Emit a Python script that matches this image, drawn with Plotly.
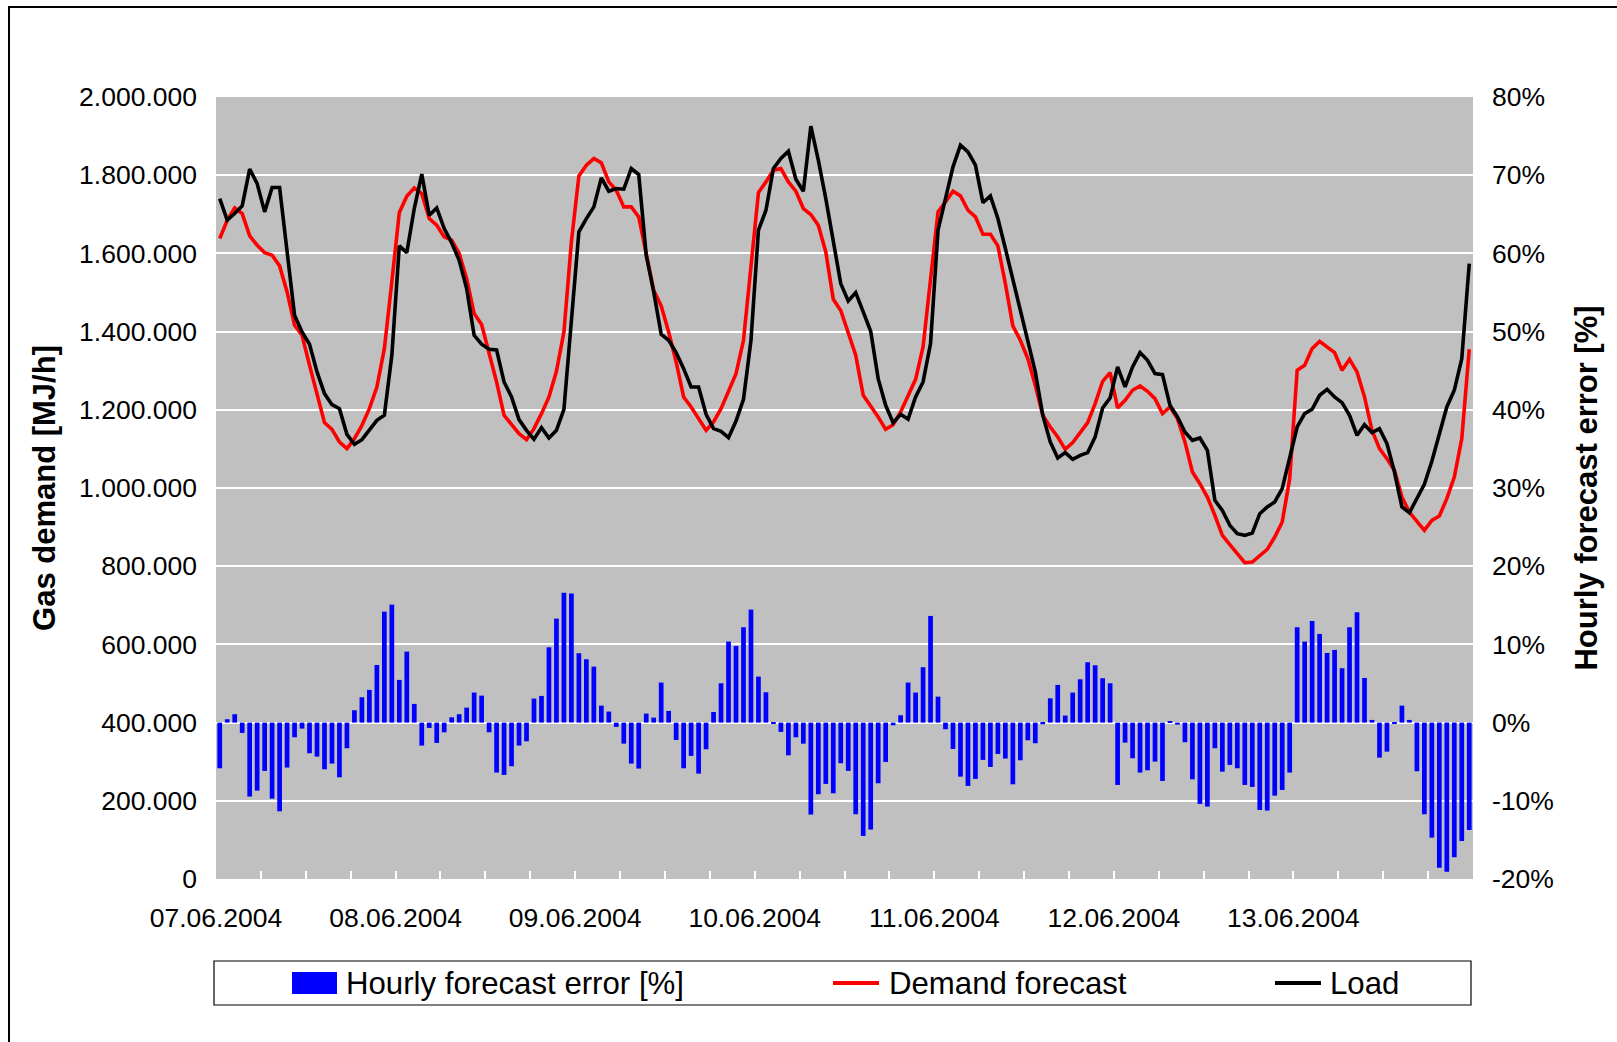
import pandas as pd
import plotly.graph_objects as go

# ---------------- data ----------------
start_time = "2004-06-07 00:30"
n_hours = 168

load = [
    1740300, 1684900, 1701900, 1721500, 1815400, 1778700, 1706200, 1768400, 1768400, 1603800,
    1441800, 1399100, 1367600, 1296800, 1241400, 1213200, 1203000, 1137300, 1111700, 1123600,
    1147500, 1173100, 1185900, 1339400, 1619200, 1602100, 1714700, 1802600, 1697700, 1716400,
    1663500, 1626900, 1582500, 1510000, 1390600, 1367600, 1354800, 1353100, 1271200, 1232800,
    1174800, 1147500, 1124500, 1154400, 1127900, 1147500, 1201300, 1429000, 1655000, 1689100,
    1719000, 1793200, 1759100, 1765900, 1764200, 1817100, 1801700, 1595300, 1501500, 1393200,
    1377800, 1346300, 1305300, 1258400, 1258400, 1188500, 1151800, 1145000, 1128800, 1171400,
    1226900, 1377800, 1659300, 1710400, 1817100, 1842600, 1861400, 1789800, 1759100, 1925400,
    1838400, 1740300, 1629400, 1522800, 1478500, 1499800, 1450300, 1400800, 1279700, 1211500,
    1167200, 1188500, 1175700, 1232800, 1271200, 1369300, 1659300, 1740300, 1821300, 1876800,
    1859700, 1825600, 1730100, 1747100, 1689100, 1612400, 1535600, 1454600, 1377800, 1296800,
    1185900, 1117700, 1076700, 1090400, 1073300, 1083500, 1090400, 1130500, 1204700, 1230300,
    1309600, 1258400, 1309600, 1346300, 1326600, 1292500, 1290000, 1211500, 1181700, 1143300,
    1121900, 1127900, 1096400, 968400, 942800, 904500, 883100, 878900, 884800, 934300,
    951400, 964200, 998300, 1079300, 1156100, 1190200, 1201300, 1237100, 1252400, 1232800,
    1218300, 1185900, 1134700, 1162000, 1141600, 1151800, 1113400, 1040900, 951400, 936900,
    972700, 1009400, 1068200, 1139000, 1207200, 1249900, 1330900, 1573900,
]

forecast = [
    1638000, 1684900, 1716400, 1701900, 1644800, 1620900, 1602100, 1595300, 1568000, 1501500,
    1416200, 1390600, 1313800, 1241400, 1167300, 1150100, 1117700, 1100600, 1126200, 1160300,
    1203000, 1258400, 1356500, 1527100, 1704500, 1746300, 1767600, 1753100, 1689100, 1672100,
    1642200, 1633700, 1599600, 1535600, 1446100, 1417900, 1348000, 1271200, 1185900, 1162000,
    1139000, 1123600, 1151800, 1190200, 1232800, 1298500, 1399100, 1629400, 1798300, 1825600,
    1842600, 1831600, 1782900, 1761600, 1719000, 1719000, 1693400, 1599600, 1505700, 1465700,
    1399100, 1322400, 1232800, 1207200, 1177400, 1147500, 1168900, 1203000, 1247300, 1292500,
    1377800, 1578000, 1755600, 1782900, 1812800, 1817100, 1782900, 1759100, 1714700, 1699400,
    1672100, 1603800, 1482700, 1454000, 1399100, 1339400, 1237100, 1209800, 1181700, 1150100,
    1162000, 1194400, 1235400, 1278000, 1360800, 1527100, 1706200, 1731800, 1759100, 1747100,
    1710400, 1693400, 1649000, 1649000, 1619200, 1522800, 1414500, 1377800, 1330900, 1262700,
    1185900, 1156100, 1130500, 1098900, 1116000, 1141600, 1167200, 1215800, 1272900, 1295100,
    1204700, 1224300, 1249900, 1260900, 1247300, 1228600, 1190200, 1207200, 1177400, 1117700,
    1040900, 1011000, 976900, 930000, 878900, 855000, 832000, 808900, 810600, 826000,
    843000, 874600, 913000, 1023900, 1301000, 1313800, 1356500, 1375300, 1360800, 1346300,
    1301000, 1329200, 1296800, 1232800, 1147500, 1100600, 1075000, 1045200, 976900, 938600,
    914700, 891700, 917300, 928300, 972700, 1028100, 1126200, 1354800,
]

error_pct = [
    -5.84, 0.43, 1.07, -1.32, -9.46, -8.70, -6.18, -9.72, -11.34, -5.75,
    -1.88, -0.77, -3.92, -4.35, -5.97, -5.24, -6.99, -3.28, 1.58, 3.24,
    4.18, 7.37, 14.19, 15.09, 5.46, 9.08, 2.39, -2.94, -0.68, -2.60,
    -1.24, 0.68, 1.07, 1.92, 3.84, 3.45, -1.24, -6.39, -6.69, -5.58,
    -2.94, -2.39, 3.07, 3.41, 9.63, 13.30, 16.62, 16.50, 8.87, 8.10,
    7.16, 2.17, 1.41, -0.55, -2.69, -5.24, -5.88, 1.15, 0.64, 5.12,
    1.49, -2.22, -5.84, -4.26, -6.52, -3.41, 1.36, 5.03, 10.36, 9.80,
    12.19, 14.45, 5.88, 3.88, -0.15, -1.19, -4.18, -1.88, -2.69, -11.76,
    -9.16, -7.84, -9.04, -5.20, -6.18, -11.72, -14.49, -13.68, -7.76, -5.03,
    -0.34, 0.94, 5.12, 3.84, 7.08, 13.64, 3.32, -0.85, -3.37, -6.91,
    -8.10, -7.20, -4.77, -5.67, -4.01, -4.60, -7.89, -4.82, -2.26, -2.64,
    -0.21, 3.11, 4.82, 0.90, 3.84, 5.54, 7.72, 7.33, 5.67, 5.03,
    -7.97, -2.56, -4.56, -6.39, -6.10, -4.99, -7.46, 0.17, -0.26, -2.51,
    -7.25, -10.40, -10.74, -3.28, -6.27, -5.41, -5.84, -7.97, -8.23, -11.17,
    -11.25, -9.34, -8.61, -6.39, 12.19, 10.36, 13.00, 11.34, 8.91, 9.29,
    6.95, 12.19, 14.11, 5.71, 0.34, -4.48, -3.71, -0.17, 2.17, 0.34,
    -6.22, -11.72, -14.71, -18.55, -19.07, -17.23, -15.14, -13.73,
]

day_ticks = ["2004-06-07", "2004-06-08", "2004-06-09", "2004-06-10",
             "2004-06-11", "2004-06-12", "2004-06-13"]
day_labels = ["07.06.2004", "08.06.2004", "09.06.2004", "10.06.2004",
              "11.06.2004", "12.06.2004", "13.06.2004"]
left_tickvals = [0, 200000, 400000, 600000, 800000, 1000000, 1200000,
                 1400000, 1600000, 1800000, 2000000]
left_ticktext = ["0", "200.000", "400.000", "600.000", "800.000", "1.000.000",
                 "1.200.000", "1.400.000", "1.600.000", "1.800.000", "2.000.000"]
right_tickvals = [-20, -10, 0, 10, 20, 30, 40, 50, 60, 70, 80]
right_ticktext = ["-20%", "-10%", "0%", "10%", "20%", "30%", "40%",
                  "50%", "60%", "70%", "80%"]

series_names = ["Hourly forecast error [%]", "Demand forecast", "Load"]

# ---------------- layout constants ----------------
W, H = 1617, 1042
PL, PR, PT, PB = 216, 1473, 97, 879   # plot area in pixels
FONT = "Liberation Sans, Arial, sans-serif"

def px(xp):
    return (xp - PL) / (PR - PL)

def py(yp):
    return (PB - yp) / (PB - PT)

hours = pd.date_range(start_time, periods=n_hours, freq="h")

fig = go.Figure()
fig.add_trace(go.Bar(
    x=hours, y=error_pct, name=series_names[0], yaxis="y2",
    marker=dict(color="#0000FF", line=dict(width=0)),
    width=0.63 * 3600 * 1000,
))
fig.add_trace(go.Scatter(
    x=hours, y=forecast, name=series_names[1], mode="lines",
    line=dict(color="#FF0000", width=3.6),
))
fig.add_trace(go.Scatter(
    x=hours, y=load, name=series_names[2], mode="lines",
    line=dict(color="#000000", width=3.6),
))

tickfont = dict(family=FONT, size=26.5, color="black")
titlefont = dict(family=FONT, size=31, color="black", weight="bold")

fig.update_layout(
    width=W, height=H, autosize=False,
    margin=dict(l=PL, r=W - PR, t=PT, b=H - PB, pad=0),
    paper_bgcolor="white", plot_bgcolor="#C0C0C0",
    showlegend=False,
    xaxis=dict(
        type="date", range=["2004-06-07", "2004-06-14"],
        tickvals=day_ticks, ticktext=day_labels,
        ticks="inside", ticklen=8, tickwidth=1.5, tickcolor="white",
        minor=dict(dtick=6 * 3600 * 1000, ticks="inside", ticklen=8,
                   tickwidth=1.5, tickcolor="white", showgrid=False),
        showgrid=False, zeroline=False, showline=False,
        tickfont=tickfont, ticklabelstandoff=20,
    ),
    yaxis=dict(
        range=[0, 2000000], tickvals=left_tickvals, ticktext=left_ticktext,
        showgrid=True, gridcolor="white", gridwidth=2.2,
        zeroline=False, showline=False, ticks="",
        tickfont=tickfont, ticklabelstandoff=18,
        title=dict(text="Gas demand [MJ/h]", font=titlefont, standoff=14),
    ),
    yaxis2=dict(
        overlaying="y", side="right",
        range=[-20, 80], tickvals=right_tickvals, ticktext=right_ticktext,
        showgrid=False, zeroline=False, showline=False, ticks="",
        tickfont=tickfont, ticklabelstandoff=18,
        title=dict(text="Hourly forecast error [%]", font=titlefont, standoff=22),
    ),
    bargap=0.37,
)

# outer chart border
shapes = [
    dict(type="rect", xref="paper", yref="paper",
         x0=px(9), x1=px(1630), y0=py(1055), y1=py(7),
         line=dict(color="black", width=2), fillcolor="rgba(0,0,0,0)"),
    # legend box
    dict(type="rect", xref="paper", yref="paper",
         x0=px(214), x1=px(1471), y0=py(1005), y1=py(961),
         line=dict(color="black", width=1.2), fillcolor="white"),
    # legend symbols
    dict(type="rect", xref="paper", yref="paper",
         x0=px(292), x1=px(337), y0=py(994), y1=py(972),
         line=dict(width=0), fillcolor="#0000FF"),
    dict(type="line", xref="paper", yref="paper",
         x0=px(833), x1=px(879), y0=py(983), y1=py(983),
         line=dict(color="#FF0000", width=3.8)),
    dict(type="line", xref="paper", yref="paper",
         x0=px(1275), x1=px(1321), y0=py(983), y1=py(983),
         line=dict(color="#000000", width=3.8)),
]
legend_x = [344, 887, 1328]
annotations = [
    dict(text=series_names[i], xref="paper", yref="paper",
         x=px(legend_x[i]), y=py(983), xanchor="left", yanchor="middle",
         showarrow=False, font=dict(family=FONT, size=31.2, color="black"))
    for i in range(3)
]
fig.update_layout(shapes=shapes, annotations=annotations)

fig.write_html(
    "out.html",
    config={"displayModeBar": False},
    post_script="document.body.style.margin='0';document.body.style.overflow='hidden';",
)
